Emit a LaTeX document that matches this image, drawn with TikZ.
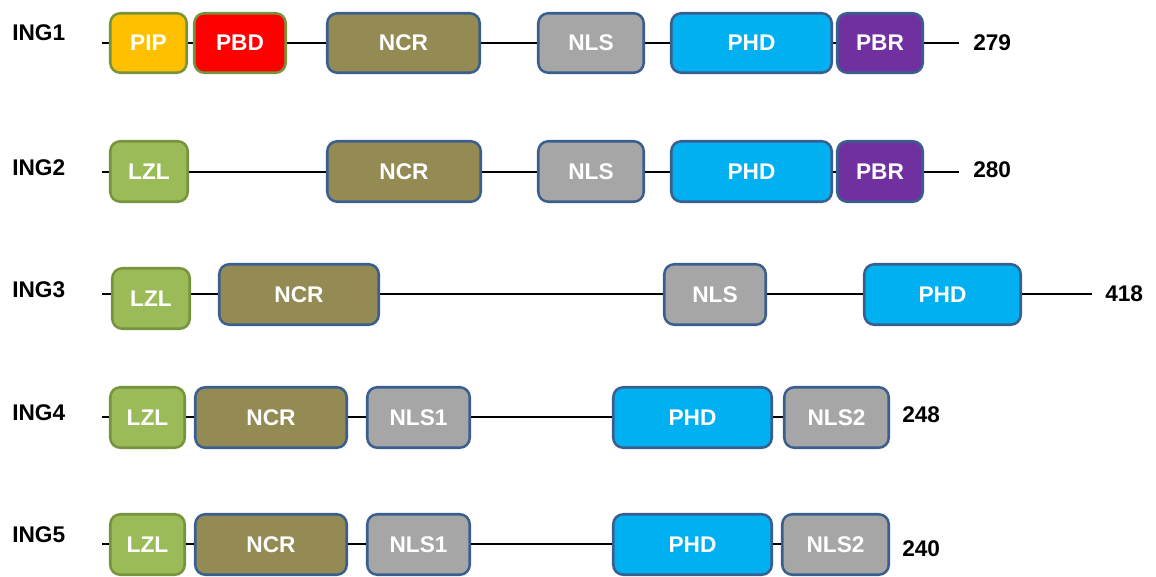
\documentclass[tikz,border=0pt]{standalone}
\usepackage{fontspec}
\setmainfont{Liberation Sans}
\definecolor{cPIP}{HTML}{FFC000}
\definecolor{cPBD}{HTML}{FF0000}
\definecolor{cNCR}{HTML}{948A54}
\definecolor{cNLS}{HTML}{A6A6A6}
\definecolor{cPHD}{HTML}{00B0F0}
\definecolor{cPBR}{HTML}{7030A0}
\definecolor{cLZL}{HTML}{9BBB59}
\definecolor{edgeGreen}{HTML}{77933C}
\definecolor{edgeBlue}{HTML}{3A5F8E}
\tikzset{
  dombox/.style={rounded corners=7.5pt, line width=1.9pt, text=white,
    font=\fontsize{17}{20}\selectfont\bfseries, inner sep=0pt},
  gbox/.style={dombox, draw=edgeGreen},
  bbox/.style={dombox, draw=edgeBlue},
  backbone/.style={line width=1.1pt, black},
  protlabel/.style={font=\fontsize{17}{20}\selectfont\bfseries, anchor=west, inner sep=0pt},
  lenlabel/.style={font=\fontsize{17}{20}\selectfont\bfseries, anchor=west, inner sep=0pt},
}
% \dom{name}{x1}{y1}{x2}{y2}{style}{label}: a domain box given by its outer corners (px)
\newcommand\dom[7]{%
  \node[#6, minimum width={(#4-#2-2.5)*0.75pt}, minimum height={(#5-#3-2.5)*0.75pt}]
    (#1) at ({(#2+#4)/2},{(#3+#5)/2}) {#7};}
\begin{document}
\begin{tikzpicture}[x=0.75pt, y=-0.75pt]
\useasboundingbox (0,0) rectangle (1156,577);

% ING1
\node[protlabel] (n1) at (12,33) {ING1};
\coordinate (s1) at (102,43); \coordinate (e1) at (959,43);
\draw[backbone] (s1) -- (e1);
\dom{a1}{109}{12}{188}{74}{gbox, fill=cPIP}{PIP}
\dom{b1}{193}{12}{287}{74}{gbox, fill=cPBD}{PBD}
\dom{c1}{326}{12}{481}{74}{bbox, fill=cNCR}{NCR}
\dom{d1}{537}{12}{645}{74}{bbox, fill=cNLS}{NLS}
\dom{f1}{670}{12}{833}{74}{bbox, fill=cPHD}{PHD}
\dom{g1}{836}{12}{924}{74}{bbox, fill=cPBR}{PBR}
\node[lenlabel] (l1) at (973,43) {279};

% ING2
\node[protlabel] (n2) at (12,168) {ING2};
\coordinate (s2) at (102,172); \coordinate (e2) at (959,172);
\draw[backbone] (s2) -- (e2);
\dom{a2}{109}{140}{189}{203}{gbox, fill=cLZL}{LZL}
\dom{c2}{326}{140}{482}{203}{bbox, fill=cNCR}{NCR}
\dom{d2}{537}{140}{645}{203}{bbox, fill=cNLS}{NLS}
\dom{f2}{670}{140}{833}{203}{bbox, fill=cPHD}{PHD}
\dom{g2}{836}{140}{924}{203}{bbox, fill=cPBR}{PBR}
\node[lenlabel] (l2) at (973,170) {280};

% ING3
\node[protlabel] (n3) at (12,290) {ING3};
\coordinate (s3) at (102,294); \coordinate (e3) at (1092,294);
\draw[backbone] (s3) -- (e3);
\dom{a3}{111}{267}{191}{330}{gbox, fill=cLZL}{LZL}
\dom{c3}{218}{263}{380}{326}{bbox, fill=cNCR}{NCR}
\dom{d3}{663}{263}{767}{326}{bbox, fill=cNLS}{NLS}
\dom{f3}{863}{263}{1022}{326}{bbox, fill=cPHD}{PHD}
\node[lenlabel] (l3) at (1105,294) {418};

% ING4
\node[protlabel] (n4) at (12,413) {ING4};
\coordinate (s4) at (102,417);
\dom{a4}{109}{386}{186}{449}{gbox, fill=cLZL}{LZL}
\dom{c4}{194}{386}{348}{449}{bbox, fill=cNCR}{NCR}
\dom{d4}{366}{386}{471}{449}{bbox, fill=cNLS}{NLS1}
\dom{f4}{612}{386}{773}{449}{bbox, fill=cPHD}{PHD}
\dom{g4}{783}{386}{890}{449}{bbox, fill=cNLS}{NLS2}
\draw[backbone] (s4) -- (a4.west |- s4);
\draw[backbone] (a4.east |- s4) -- (c4.west |- s4);
\draw[backbone] (c4.east |- s4) -- (d4.west |- s4);
\draw[backbone] (d4.east |- s4) -- (f4.west |- s4);
\draw[backbone] (f4.east |- s4) -- (g4.west |- s4);
\node[lenlabel] (l4) at (902,415) {248};

% ING5
\node[protlabel] (n5) at (12,535) {ING5};
\coordinate (s5) at (102,544);
\dom{a5}{109}{513}{186}{576}{gbox, fill=cLZL}{LZL}
\dom{c5}{194}{513}{348}{576}{bbox, fill=cNCR}{NCR}
\dom{d5}{366}{513}{471}{576}{bbox, fill=cNLS}{NLS1}
\dom{f5}{612}{513}{773}{576}{bbox, fill=cPHD}{PHD}
\dom{g5}{781}{513}{890}{576}{bbox, fill=cNLS}{NLS2}
\draw[backbone] (s5) -- (a5.west |- s5);
\draw[backbone] (a5.east |- s5) -- (c5.west |- s5);
\draw[backbone] (c5.east |- s5) -- (d5.west |- s5);
\draw[backbone] (d5.east |- s5) -- (f5.west |- s5);
\draw[backbone] (f5.east |- s5) -- (g5.west |- s5);
\node[lenlabel] (l5) at (902,549) {240};
\end{tikzpicture}
\end{document}
